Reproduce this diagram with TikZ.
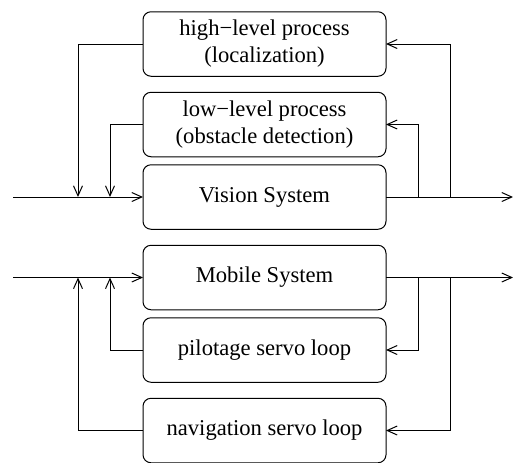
\documentclass[tikz,border=0pt]{standalone}
\usepackage{fontspec}
\setmainfont{Liberation Serif}
\usetikzlibrary{arrows.meta,positioning}
\tikzset{>/.tip={Straight Barb[length=5pt,width=4.5pt,line width=0.5pt]}}
\tikzset{blk/.style={draw,rounded corners=4pt,line width=0.5pt,minimum width=121.5pt,minimum height=32.25pt,outer sep=0pt,align=center,inner sep=0pt,font=\fontsize{11.3}{13.5}\selectfont}}

\begin{document}
\begin{tikzpicture}[x=0.5pt,y=-0.5pt,line width=0.5pt,node distance=8pt]
      \useasboundingbox (0,0) rectangle (513,462);
      \node[blk] (high) at (264.5,44) {high−level process\\(localization)};
      \node[blk,below=of high] (low) {low−level process\\(obstacle detection)};
      \node[blk,below=4pt of low] (vis) {Vision System};
      \node[blk,below=of vis] (mob) {Mobile System};
      \node[blk,below=4pt of mob] (pil) {pilotage servo loop};
      \node[blk,below=of pil] (nav) {navigation servo loop};

      % vision loop
      \coordinate (vin) at (13,0 |- vis.west);
      \coordinate (vout) at (513,0 |- vis.east);
      \coordinate (vhigh) at (78,0 |- vis.west);
      \coordinate (vlow) at (110,0 |- vis.west);
      \coordinate (vtapl) at (418,0 |- vis.east);
      \coordinate (vtaph) at (450,0 |- vis.east);
      \draw[->] (vin) -- (vis);
      \draw[->] (vis) -- (vout);
      \draw[->] (high.west) -| (vhigh);
      \draw[->] (low.west) -| (vlow);
      \draw[->] (vtapl) |- (low.east);
      \draw[->] (vtaph) |- (high.east);

      % mobile loop
      \coordinate (min) at (13,0 |- mob.west);
      \coordinate (mout) at (513,0 |- mob.east);
      \coordinate (mnav) at (78,0 |- mob.west);
      \coordinate (mpil) at (110,0 |- mob.west);
      \coordinate (mtapp) at (418,0 |- mob.east);
      \coordinate (mtapn) at (450,0 |- mob.east);
      \draw[->] (min) -- (mob);
      \draw[->] (mob) -- (mout);
      \draw[->] (nav.west) -| (mnav);
      \draw[->] (pil.west) -| (mpil);
      \draw[->] (mtapp) |- (pil.east);
      \draw[->] (mtapn) |- (nav.east);
\end{tikzpicture}
\end{document}
